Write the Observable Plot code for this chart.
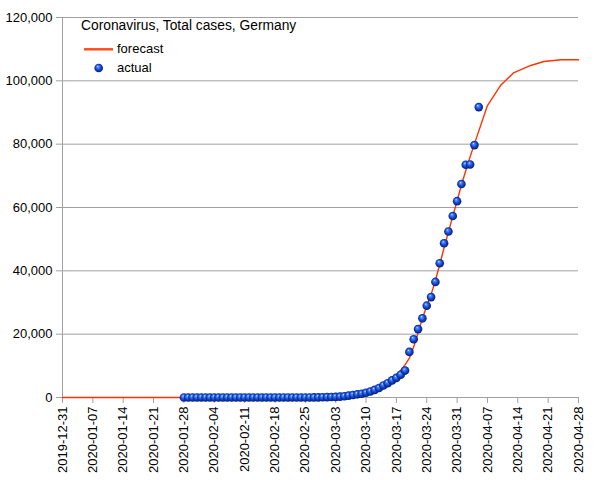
<!DOCTYPE html>
<html>
<head>
<meta charset="utf-8">
<script src="https://cdn.jsdelivr.net/npm/d3@7"></script>
<script src="https://cdn.jsdelivr.net/npm/@observablehq/plot@0.6"></script>
<style>
  body { margin: 0; background: white; }
  #wrap { position: relative; width: 605px; height: 480px; font-family: "Liberation Sans", Arial, sans-serif; font-size: 13px; color: black; }
  #wrap svg g[aria-label="x-axis tick"], #wrap svg g[aria-label="y-axis tick"] { stroke: #a0a0a0; }
  .ov { position: absolute; line-height: 16px; white-space: nowrap; }
</style>
</head>
<body>
<div id="wrap"></div>
<script>
// ---- data ----
const titleText = "Coronavirus, Total cases, Germany";
const seriesNames = ["forecast", "actual"];

const xTickLabels = ["2019-12-31","2020-01-07","2020-01-14","2020-01-21","2020-01-28","2020-02-04","2020-02-11","2020-02-18","2020-02-25","2020-03-03","2020-03-10","2020-03-17","2020-03-24","2020-03-31","2020-04-07","2020-04-14","2020-04-21","2020-04-28"];
const yTicks = [0, 20000, 40000, 60000, 80000, 100000, 120000];

// actual: daily from 2020-01-28 to 2020-04-05
const actualStart = "2020-01-28";
const actualValues = [
  4, 4, 4, 5,
  8, 10, 12, 12, 12, 12, 13, 13, 14, 14,
  16, 16, 16, 16, 16, 16, 16, 16, 16, 16, 16, 16, 16, 16, 16,
  18, 26, 48, 79,
  130, 159, 196, 262, 400, 600, 800, 1000, 1200, 1500,
  1900, 2400, 3000, 3800, 4500, 5400, 6200, 7200, 8500, 14400,
  18400, 21600, 25000, 29000, 31700, 36500, 42400, 48700, 52400, 57300,
  62000,
  67400, 73500, 73600, 79700, 91700
];

const forecastDates = ["2019-12-31","2020-02-15","2020-03-01","2020-03-05","2020-03-08","2020-03-09","2020-03-10","2020-03-11","2020-03-12","2020-03-13","2020-03-14","2020-03-15","2020-03-16","2020-03-17","2020-03-18","2020-03-19","2020-03-20","2020-03-21","2020-03-22","2020-03-23","2020-03-24","2020-03-25","2020-03-26","2020-03-27","2020-03-28","2020-03-29","2020-03-30","2020-03-31","2020-04-01","2020-04-02","2020-04-03","2020-04-04","2020-04-07","2020-04-10","2020-04-13","2020-04-17","2020-04-20","2020-04-24","2020-04-28"];
const forecastValues = [0, 5, 50, 200, 600, 850, 1200, 1600, 2150, 2800, 3600, 4600, 5700, 7000, 8600, 10300, 12400, 16000, 20500, 25000, 28800, 32500, 37000, 42000, 47300, 52300, 57200, 62100, 67100, 71600, 76000, 80100, 92200, 98500, 102500, 104850, 106100, 106650, 106650];

// ---- build tables ----
const parse = d3.utcParse("%Y-%m-%d");
const fmt = d3.utcFormat("%Y-%m-%d");
const t0 = parse(actualStart);
const actual = actualValues.map((v, i) => ({date: d3.utcDay.offset(t0, i), value: v}));
const forecast = forecastDates.map((d, i) => ({date: parse(d), value: forecastValues[i]}));
const xTicks = xTickLabels.map(parse);
const xDomain = [xTicks[0], xTicks[xTicks.length - 1]];

const grey = "#a0a0a0";
const chart = Plot.plot({
  width: 605,
  height: 480,
  marginLeft: 62,
  marginRight: 27,
  marginTop: 17,
  marginBottom: 83,
  x: {type: "utc", domain: xDomain},
  y: {domain: [0, 120000]},
  style: {fontFamily: "'Liberation Sans', Arial, sans-serif", fontSize: "13px", color: "black", background: "white", overflow: "visible"},
  marks: [
    Plot.gridY(yTicks, {stroke: grey, strokeOpacity: 1}),
    Plot.ruleX([xDomain[0]], {stroke: grey}),
    Plot.axisY({ticks: yTicks, tickFormat: d3.format(","), tickSize: 6, tickPadding: 4, label: null}),
    Plot.axisX({ticks: xTicks, tickFormat: fmt, tickRotate: -90, tickSize: 6, tickPadding: 3, label: null}),
    Plot.line(forecast, {x: "date", y: "value", stroke: "#ff3300", strokeWidth: 1.4}),
    Plot.dot(actual, {x: "date", y: "value", r: 4.3, fill: "url(#sph)", stroke: "none"})
  ]
});

const gradDefs = `<defs><radialGradient id="sph" cx="0.5" cy="0.5" r="0.55" fx="0.38" fy="0.3">
  <stop offset="0%" stop-color="#e0f0ff"/>
  <stop offset="20%" stop-color="#4a8cff"/>
  <stop offset="58%" stop-color="#1545d0"/>
  <stop offset="100%" stop-color="#001560"/>
</radialGradient></defs>`;
chart.insertAdjacentHTML("afterbegin", gradDefs);

const wrap = document.getElementById("wrap");
wrap.appendChild(chart);

// title and legend overlays
const title = document.createElement("div");
title.className = "ov";
title.style.left = "81px"; title.style.top = "18px"; title.style.fontSize = "13.8px";
title.textContent = titleText;
wrap.appendChild(title);

const leg = document.createElement("div");
leg.innerHTML = `
<svg style="position:absolute;left:80px;top:40px" width="40" height="36">
  ${gradDefs.replace('id="sph"', 'id="sphL"')}
  <line x1="4" x2="33" y1="9.3" y2="9.3" stroke="#ff4a14" stroke-width="2.4"/>
  <circle cx="18.7" cy="28" r="4.3" fill="url(#sphL)"/>
</svg>
<div class="ov" style="left:117px;top:41px">${seriesNames[0]}</div>
<div class="ov" style="left:117px;top:60px">${seriesNames[1]}</div>`;
wrap.appendChild(leg);
</script>
</body>
</html>
